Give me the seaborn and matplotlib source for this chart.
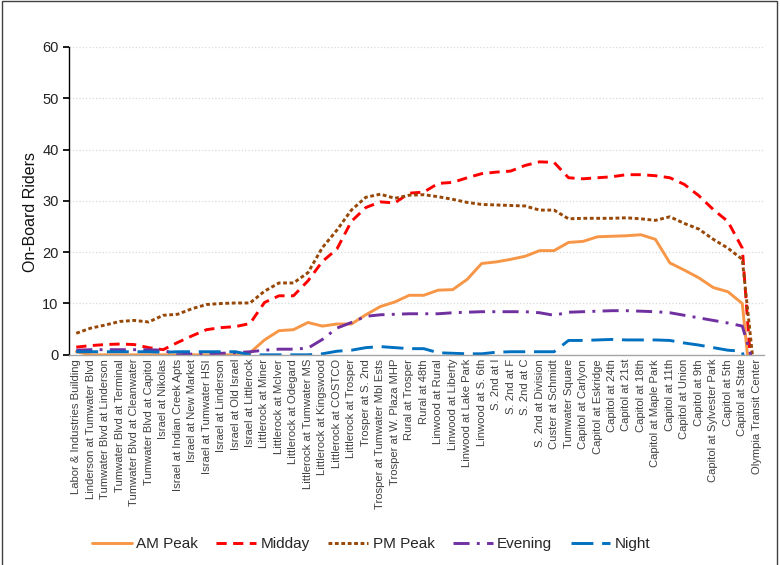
import numpy as np
import pandas as pd
import matplotlib
matplotlib.use("Agg")
import matplotlib.pyplot as plt
import seaborn as sns
from matplotlib.patches import Rectangle
from matplotlib.ticker import MultipleLocator

sns.set_theme(style="white")
plt.rcParams['font.family'] = ['Liberation Sans', 'DejaVu Sans']

# stops along the route
stops = [
    "Labor & Industries Building", "Linderson at Tumwater Blvd", "Tumwater Blvd at Linderson",
    "Tumwater Blvd at Terminal", "Tumwater Blvd at Cleanwater", "Tumwater Blvd at Capitol",
    "Israel at Nikolas", "Israel at Indian Creek Apts", "Israel at New Market",
    "Israel at Tumwater HSI", "Israel at Linderson", "Israel at Old Israel",
    "Israel at Littlerock", "Littlerock at Miner", "Littlerock at McIver",
    "Littlerock at Odegard", "Littlerock at Tumwater MS", "Littlerock at Kingswood",
    "Littlerock at COSTCO", "Littlerock at Trosper", "Trosper at S. 2nd",
    "Trosper at Tumwater Mbl Ests", "Trosper at W. Plaza MHP", "Rural at Trosper",
    "Rural at 48th", "Linwood at Rural", "Linwood at Liberty", "Linwood at Lake Park",
    "Linwood at S. 6th", "S. 2nd at I", "S. 2nd at F", "S. 2nd at C",
    "S. 2nd at Division", "Custer at Schmidt", "Tumwater Square", "Capitol at Carlyon",
    "Capitol at Eskridge", "Capitol at 24th", "Capitol at 21st", "Capitol at 18th",
    "Capitol at Maple Park", "Capitol at 11th", "Capitol at Union", "Capitol at 9th",
    "Capitol at Sylvester Park", "Capitol at 5th", "Capitol at State", "Olympia Transit Center",
]

am_peak = [0.6, 0, 0, 0, 0, 0, 0, 0, 0, 0, 0, 0.0, 0.4, 2.9, 4.7, 4.9, 6.3, 5.6, 6.0, 6.0,
           7.8, 9.4, 10.3, 11.6, 11.6, 12.6, 12.7, 14.7, 17.8, 18.1, 18.6, 19.2, 20.3, 20.3,
           21.9, 22.1, 23.0, 23.1, 23.2, 23.4, 22.5, 17.9, 16.5, 15.0, 13.1, 12.3, 10.0, -18]
midday = [1.5, 1.8, 2.0, 2.1, 2.0, 1.4, 1.0, 2.4, 3.7, 4.9, 5.3, 5.5, 6.1, 10.2, 11.5, 11.5,
          14.4, 18.2, 20.6, 26.0, 28.7, 29.8, 29.6, 31.5, 31.7, 33.4, 33.6, 34.5, 35.3, 35.6,
          35.8, 36.9, 37.6, 37.5, 34.5, 34.3, 34.5, 34.7, 35.1, 35.1, 34.9, 34.5, 33.2, 31.0,
          28.3, 26.0, 20.8, -18]
pm_peak = [4.2, 5.2, 5.8, 6.5, 6.7, 6.4, 7.7, 7.9, 9.0, 9.8, 10.0, 10.1, 10.1, 12.4, 14.0,
           14.0, 16.0, 20.9, 24.3, 28.2, 30.7, 31.3, 30.5, 31.1, 31.2, 30.8, 30.3, 29.7, 29.3,
           29.2, 29.1, 29.0, 28.2, 28.2, 26.5, 26.6, 26.6, 26.6, 26.7, 26.5, 26.2, 26.9, 25.6,
           24.5, 22.5, 20.8, 18.6, -8]
evening = [0.9, 1.0, 1.0, 1.0, 1.0, 1.0, 0.9, 0.0, 0.15, 0.25, 0.3, 0.4, 0.6, 0.9, 1.1, 1.1,
           1.3, 3.0, 5.2, 6.3, 7.5, 7.8, 7.9, 8.0, 8.0, 8.0, 8.2, 8.3, 8.4, 8.4, 8.4, 8.4, 8.2,
           7.7, 8.3, 8.4, 8.5, 8.6, 8.6, 8.5, 8.4, 8.2, 7.7, 7.2, 6.7, 6.2, 5.6, -4]
night = [0.6, 0.6, 0.6, 0.6, 0.6, 0.6, 0.5, 0.6, 0.6, 0.6, 0.6, 0.6, 0.0, 0.0, 0.0, 0.0, 0.0,
         0.2, 0.7, 0.9, 1.4, 1.6, 1.4, 1.2, 1.2, 0.4, 0.3, 0.2, 0.2, 0.5, 0.6, 0.6, 0.6, 0.6,
         2.8, 2.8, 2.9, 3.0, 2.9, 2.9, 2.9, 2.8, 2.3, 1.9, 1.4, 0.9, 0.7, -13]

series = {"AM Peak": am_peak, "Midday": midday, "PM Peak": pm_peak,
          "Evening": evening, "Night": night}
colors = {"AM Peak": "#F79646", "Midday": "#FF0000", "PM Peak": "#974706",
          "Evening": "#7030A0", "Night": "#0070C0"}
dashes = {"AM Peak": "", "Midday": (3.5, 2.2), "PM Peak": (1.3, 0.9),
          "Evening": (5.5, 2.5, 1, 2.5), "Night": (7.5, 3)}

df = pd.DataFrame(series)
df["pos"] = np.arange(len(stops))
long = df.melt(id_vars="pos", var_name="Period", value_name="Riders")

fig = plt.figure(figsize=(7.8, 5.65), dpi=100)
ax = fig.add_axes([0.0885, 0.372, 0.891, 0.545])

sns.lineplot(data=long, x="pos", y="Riders", hue="Period", style="Period",
             palette=colors, dashes=dashes, linewidth=2.1, ax=ax, legend=True,
             hue_order=list(series), style_order=list(series))

ax.set_xlim(-0.5, len(stops) - 0.5)
ax.set_ylim(0, 60)
ax.yaxis.set_major_locator(MultipleLocator(10))
ax.grid(axis="y", color="#d9d9d9", linestyle=":", linewidth=0.9)
ax.set_axisbelow(True)

ax.set_xticks(np.arange(len(stops)))
ax.set_xticklabels(stops, rotation=90, fontsize=8.1, color="#404040")
ax.set_xticks(np.arange(len(stops) + 1) - 0.5, minor=True)
ax.tick_params(axis="x", which="major", length=0, pad=3)
ax.tick_params(axis="x", which="minor", length=4, color="#a6a6a6", direction="out")
ax.tick_params(axis="y", length=4, color="black", direction="out", labelsize=10.5,
               labelcolor="#222222", left=True)

for s in ["top", "right"]:
    ax.spines[s].set_visible(False)
ax.spines["left"].set_color("black")
ax.spines["left"].set_linewidth(1.0)
ax.spines["bottom"].set_color("#a6a6a6")
ax.spines["bottom"].set_linewidth(1.0)

ax.set_xlabel("")
ax.set_ylabel("On-Board Riders", fontsize=11.5, color="#111111")
ax.yaxis.set_label_coords(-0.045, 0.465)

handles, labels = ax.get_legend_handles_labels()
ax.get_legend().remove()
fig.legend(handles, labels, loc="center", bbox_to_anchor=(0.476, 0.037), ncol=5,
           frameon=False, fontsize=11, handlelength=2.6, handletextpad=0.3,
           columnspacing=1.2)

fig.patches.append(Rectangle((0.002, -0.01), 0.994, 1.008, transform=fig.transFigure,
                             fill=False, edgecolor="#404040", linewidth=1.0))

fig.savefig("out.png", dpi=100)
